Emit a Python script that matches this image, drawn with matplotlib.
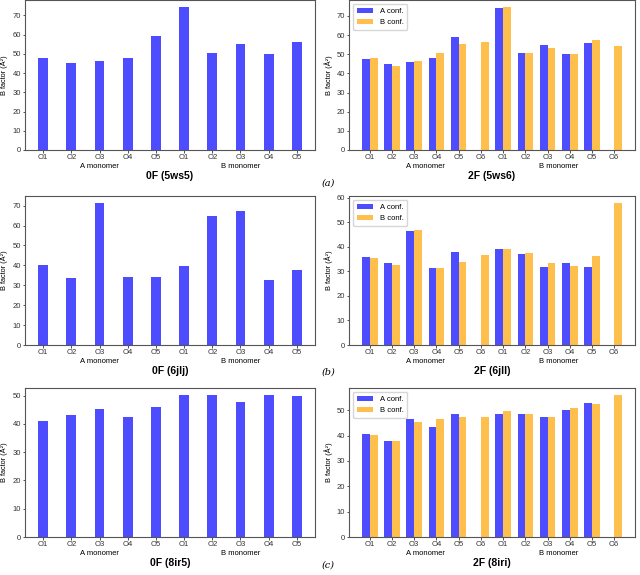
import numpy as np
import matplotlib
matplotlib.use("Agg")
import matplotlib.pyplot as plt
from matplotlib.ticker import MultipleLocator

plt.rcParams['font.family'] = ['Liberation Sans', 'DejaVu Sans']

labels_0f = ["O1", "O2", "O3", "O4", "O5", "O1", "O2", "O3", "O4", "O5"]
labels_2f = ["O1", "O2", "O3", "O4", "O5", "O6", "O1", "O2", "O3", "O4", "O5", "O6"]

# 0F panels (single conformation)
b_5ws5 = [47.7, 45.2, 46.3, 48.1, 59.1, 74.3, 50.7, 55.0, 50.0, 56.4]
b_6jlj = [40.0, 33.5, 71.3, 34.2, 34.1, 39.9, 64.8, 67.3, 32.5, 37.7]
b_8ir5 = [41.2, 43.0, 45.4, 42.3, 45.9, 50.1, 50.2, 47.8, 50.2, 49.9]

# 2F panels (A conf. / B conf.), NaN where absent
a_5ws6 = [47.6, 45.0, 46.2, 47.9, 59.0, np.nan, 74.0, 50.6, 55.0, 49.9, 56.1, np.nan]
bc_5ws6 = [48.3, 43.8, 46.6, 50.8, 55.6, 56.5, 74.6, 50.9, 53.4, 50.2, 57.3, 54.4]
a_6jll = [36.0, 33.3, 46.4, 31.6, 37.8, np.nan, 39.3, 37.2, 32.0, 33.4, 31.8, np.nan]
bc_6jll = [35.5, 32.6, 47.0, 31.6, 33.8, 36.8, 39.0, 37.6, 33.4, 32.2, 36.4, 57.9]
a_8iri = [40.5, 37.8, 46.4, 43.4, 48.4, np.nan, 48.6, 48.6, 47.5, 50.3, 52.8, np.nan]
bc_8iri = [40.3, 37.8, 45.5, 46.6, 47.4, 47.5, 49.8, 48.6, 47.2, 50.8, 52.5, 56.0]

titles_0f = ["0F (5ws5)", "0F (6jlj)", "0F (8ir5)"]
titles_2f = ["2F (5ws6)", "2F (6jll)", "2F (8iri)"]
panel_tags = ["(a)", "(b)", "(c)"]

BLUE = (0.30, 0.30, 1.0)
ORANGE = (1.0, 0.75, 0.30)
W, H = 640, 575

fig = plt.figure(figsize=(6.4, 5.75), dpi=100)

def add_ax(left, right, top, bottom):
    return fig.add_axes([left / W, 1 - bottom / H, (right - left) / W, (bottom - top) / H])

def style(ax, label_offset_px, width_px, height_px):
    for s in ax.spines.values():
        s.set_color('#555555')
        s.set_linewidth(0.8)
    ax.tick_params(labelsize=5.5, length=1.8, width=0.6, pad=1.2, colors='#333333')
    ax.yaxis.set_major_locator(MultipleLocator(10))
    ax.set_ylabel("B factor (Å²)", fontsize=5.3)
    ax.yaxis.set_label_coords(-label_offset_px / width_px, 0.5)
    return -16.5 / height_px, -26.0 / height_px

rows = [(0, 150), (196, 345), (388, 537)]
data0 = [b_5ws5, b_6jlj, b_8ir5]
dataA = [a_5ws6, a_6jll, a_8iri]
dataB = [bc_5ws6, bc_6jll, bc_8iri]

for i, (top, bottom) in enumerate(rows):
    h = bottom - top
    # left 0F
    ax = add_ax(25, 315, top, bottom)
    x = np.arange(len(labels_0f))
    ax.bar(x, data0[i], width=0.35, color=BLUE)
    ax.set_xticks(x)
    ax.set_xticklabels(labels_0f)
    ym, yt = style(ax, 25 - 8, 290, h)
    ax.text(2, ym, "A monomer", transform=ax.get_xaxis_transform(), ha='center', va='center', fontsize=5.5)
    ax.text(7, ym, "B monomer", transform=ax.get_xaxis_transform(), ha='center', va='center', fontsize=5.5)
    ax.text(0.5, yt, titles_0f[i], transform=ax.transAxes, ha='center', va='center', fontsize=7.5, fontweight='bold')

    # right 2F
    ax2 = add_ax(349, 635, top, bottom)
    x2 = np.arange(len(labels_2f))
    ax2.bar(x2 - 0.175, dataA[i], width=0.35, color=BLUE, label="A conf.")
    ax2.bar(x2 + 0.175, dataB[i], width=0.35, color=ORANGE, label="B conf.")
    ax2.set_xticks(x2)
    ax2.set_xticklabels(labels_2f)
    ym, yt = style(ax2, 349 - 333, 286, h)
    ax2.text(2.5, ym, "A monomer", transform=ax2.get_xaxis_transform(), ha='center', va='center', fontsize=5.5)
    ax2.text(8.5, ym, "B monomer", transform=ax2.get_xaxis_transform(), ha='center', va='center', fontsize=5.5)
    ax2.text(0.5, yt, titles_2f[i], transform=ax2.transAxes, ha='center', va='center', fontsize=7.5, fontweight='bold')
    ax2.legend(loc='upper left', fontsize=5.5, handlelength=2.2, frameon=True, borderpad=0.5)

tag_y = [183, 372, 565]
for t, y in zip(panel_tags, tag_y):
    fig.text(328 / W, 1 - y / H, t, fontsize=7, family='DejaVu Serif', style='italic', ha='center', va='center')

fig.savefig("out.png", dpi=100)
